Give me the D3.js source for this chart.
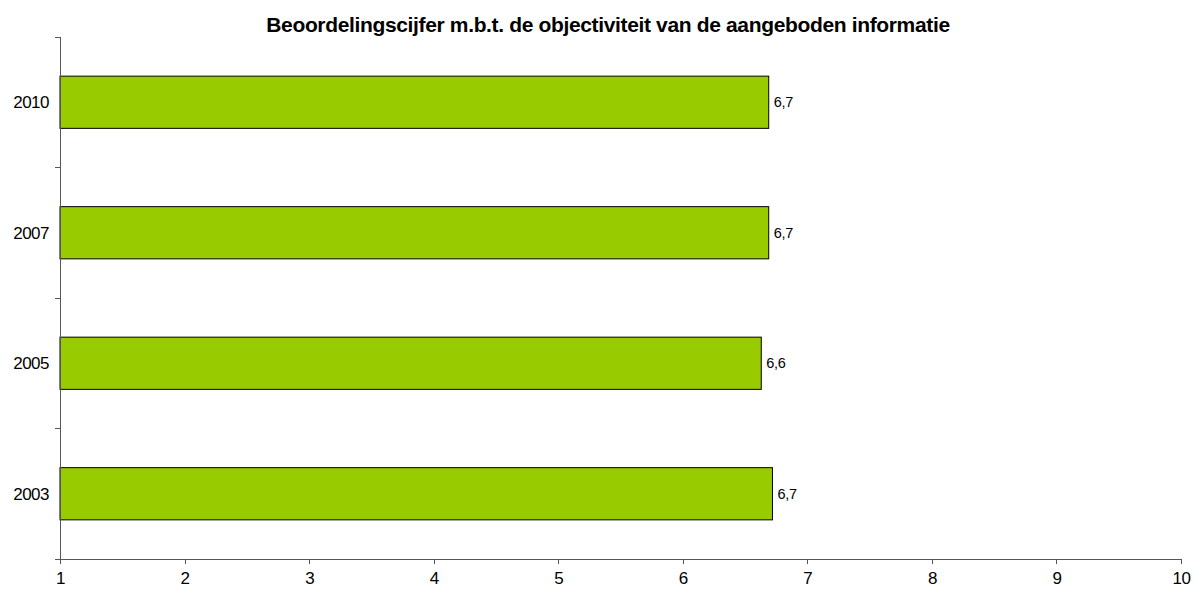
<!DOCTYPE html>
<html lang="nl">
<head>
<meta charset="utf-8">
<script src="https://d3js.org/d3.v7.min.js"></script>
<style>
  html, body { margin: 0; padding: 0; background: #fff; overflow: hidden; }
  body { font-family: "Liberation Sans", Arial, sans-serif; }
  .axis path, .axis line { stroke: #555; shape-rendering: crispEdges; }
  .axis text { font-size: 17px; fill: #000; font-family: "Liberation Sans", Arial, sans-serif; letter-spacing: -0.5px; }
</style>
</head>
<body>
<script>
// data
var years = ["2010", "2007", "2005", "2003"];
var scores = [6.69, 6.69, 6.63, 6.72];
var scoreLabels = ["6,7", "6,7", "6,6", "6,7"];
var xTicks = [1, 2, 3, 4, 5, 6, 7, 8, 9, 10];
var title = "Beoordelingscijfer m.b.t. de objectiviteit van de aangeboden informatie";

var width = 1195, height = 589;
var margin = {top: 37, right: 14, bottom: 30, left: 60};

var svg = d3.select("body").append("svg")
    .attr("width", width)
    .attr("height", height)
    .style("display", "block");

var x = d3.scaleLinear()
    .domain([1, 10])
    .range([margin.left, 1181]);

var y = d3.scaleBand()
    .domain(years)
    .range([margin.top, height - margin.bottom])
    .paddingInner(0.6)
    .paddingOuter(0.3);

// title
svg.append("text")
    .attr("x", 608)
    .attr("y", 32)
    .attr("text-anchor", "middle")
    .style("font-weight", "bold")
    .style("font-size", "21px")
    .style("letter-spacing", "-0.35px")
    .text(title);

// bars
svg.selectAll(".bar")
    .data(years)
    .enter().append("rect")
    .attr("class", "bar")
    .attr("x", x(1))
    .attr("y", function(d) { return y(d); })
    .attr("width", function(d, i) { return x(scores[i]) - x(1); })
    .attr("height", y.bandwidth())
    .style("fill", "#99cc00")
    .style("stroke", "#000")
    .style("stroke-width", 1);

// value labels
svg.selectAll(".val")
    .data(years)
    .enter().append("text")
    .attr("class", "val")
    .attr("x", function(d, i) { return x(scores[i]) + 5; })
    .attr("y", function(d) { return y(d) + y.bandwidth() / 2; })
    .attr("dy", "0.35em")
    .style("font-size", "14.5px")
    .style("letter-spacing", "-0.3px")
    .text(function(d, i) { return scoreLabels[i]; });

// x axis
var xAxis = svg.append("g")
    .attr("class", "axis")
    .attr("transform", "translate(0," + (height - margin.bottom) + ")")
    .call(d3.axisBottom(x).tickValues(xTicks).tickSize(5).tickSizeOuter(0).tickPadding(8));
xAxis.select(".domain").attr("d", "M" + (margin.left - 5) + ",0H" + x(10));

// y axis: ticks at category boundaries
var boundaries = years.map(function(d) { return y(d) - y.step() * y.paddingInner() / 2; });
boundaries.push(height - margin.bottom);
var yAxis = svg.append("g").attr("class", "axis");
yAxis.append("path")
    .attr("d", "M" + margin.left + "," + margin.top + "V" + (height - margin.bottom));
yAxis.selectAll("line")
    .data(boundaries)
    .enter().append("line")
    .attr("x1", margin.left - 5).attr("x2", margin.left)
    .attr("y1", function(d) { return d; })
    .attr("y2", function(d) { return d; });
yAxis.selectAll("text")
    .data(years)
    .enter().append("text")
    .attr("x", margin.left - 11)
    .attr("y", function(d) { return y(d) + y.bandwidth() / 2; })
    .attr("dy", "0.35em")
    .attr("text-anchor", "end")
    .text(function(d) { return d; });
</script>
</body>
</html>
